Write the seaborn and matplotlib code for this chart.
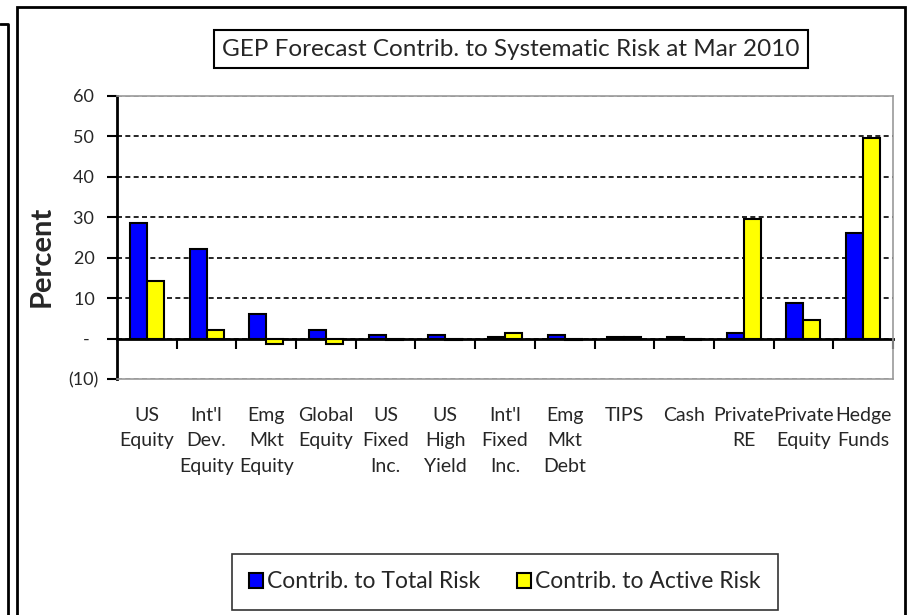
import numpy as np
import pandas as pd
import matplotlib
matplotlib.use("Agg")
import matplotlib.pyplot as plt
from matplotlib.patches import Rectangle
from matplotlib.lines import Line2D
from matplotlib.ticker import FuncFormatter
import seaborn as sns

# data
assets = ["US\nEquity", "Int'l\nDev.\nEquity", "Emg\nMkt\nEquity", "Global\nEquity",
          "US\nFixed\nInc.", "US\nHigh\nYield", "Int'l\nFixed\nInc.", "Emg\nMkt\nDebt",
          "TIPS", "Cash", "Private\nRE", "Private\nEquity", "Hedge\nFunds"]
total_risk = [28.6, 22.2, 6.0, 2.2, 0.9, 0.9, 0.3, 1.0, 0.3, 0.3, 1.4, 8.8, 26.0]
active_risk = [14.2, 2.2, -1.3, -1.3, -0.4, -0.4, 1.4, -0.4, 0.3, -0.3, 29.6, 4.6, 49.6]
series_names = ["Contrib. to Total Risk", "Contrib. to Active Risk"]
y_ticks = [-10, 0, 10, 20, 30, 40, 50, 60]

df = pd.DataFrame({
    "asset": assets * 2,
    "series": [series_names[0]] * len(assets) + [series_names[1]] * len(assets),
    "value": total_risk + active_risk,
})

sns.set_theme(style="white")
plt.rcParams["font.family"] = ["Lato", "DejaVu Sans"]

fig = plt.figure(figsize=(9.07, 6.15), dpi=100)
ax = fig.add_axes([117 / 907, 1 - 379 / 615, 776 / 907, 283 / 615])

sns.barplot(data=df, x="asset", y="value", hue="series", order=assets,
            hue_order=series_names, palette=["#0000FF", "#FFFF00"], saturation=1,
            width=0.57, edgecolor="black", linewidth=1.5, errorbar=None, ax=ax)

ax.set_ylim(-10, 60)
ax.set_xlim(-0.5, len(assets) - 0.5)
ax.set_yticks(y_ticks)

def acct(v, pos):
    v = int(round(v))
    if v == 0:
        return "-  "
    if v < 0:
        return "(%d)" % abs(v)
    return "%d " % v

ax.yaxis.set_major_formatter(FuncFormatter(acct))
ax.tick_params(axis="y", which="major", left=True, length=7, width=1.5,
               direction="out", color="black", labelsize=13, pad=6)
ax.tick_params(axis="x", length=0, labelsize=14, pad=20)
for lab in ax.get_xticklabels():
    lab.set_linespacing(1.6)

ax.set_xlabel("")
ax.set_ylabel("Percent", fontsize=21, fontweight="bold")
ax.yaxis.set_label_coords(-0.080, 0.435)

# dashed gridlines, grey at the plot-area edges
ax.yaxis.grid(True, linestyle=(0, (3, 2)), color="black", linewidth=1.2)
ax.set_axisbelow(True)
for gl, v in zip(ax.get_ygridlines(), y_ticks):
    if v in (-10, 60):
        gl.set_color("#999999")

for side in ["top", "right", "bottom"]:
    ax.spines[side].set_color("#999999")
    ax.spines[side].set_linewidth(1.2)
ax.spines["left"].set_color("black")
ax.spines["left"].set_linewidth(2)

# zero line with category divider ticks
sec = ax.secondary_xaxis(1 / 7)
sec.set_xticks(np.arange(0.5, len(assets), 1))
sec.set_xticklabels([])
sec.tick_params(length=7, width=1.5, direction="out", color="black")
sec.spines["bottom"].set_color("black")
sec.spines["bottom"].set_linewidth(2)

# legend
handles, labels = ax.get_legend_handles_labels()
ax.legend_.remove()
leg = fig.legend(handles, labels, loc="center", bbox_to_anchor=(505 / 907, 1 - 582 / 615),
                 ncol=2, frameon=True, fancybox=False, edgecolor="black", fontsize=16.5,
                 handlelength=0.6, handleheight=0.6, handletextpad=0.2,
                 columnspacing=1.6, borderpad=0.75)
leg.get_frame().set_linewidth(1.2)
leg.get_frame().set_facecolor("white")

# title in a box
fig.text(511 / 907, 1 - 49 / 615, "GEP Forecast Contrib. to Systematic Risk at Mar 2010",
         ha="center", va="center", fontsize=17.5,
         bbox=dict(boxstyle="square,pad=0.35", fc="white", ec="black", lw=1.5))

# outer frames
fig.add_artist(Rectangle((17 / 907, -0.1), 888 / 907, 1.1 - 7 / 615,
                         transform=fig.transFigure, fill=False, ec="black", lw=2))
fig.add_artist(Line2D([0, 7.5 / 907, 7.5 / 907], [1 - 24 / 615, 1 - 24 / 615, 0],
                      transform=fig.transFigure, color="black", lw=2))

fig.savefig("out.png", dpi=100)
